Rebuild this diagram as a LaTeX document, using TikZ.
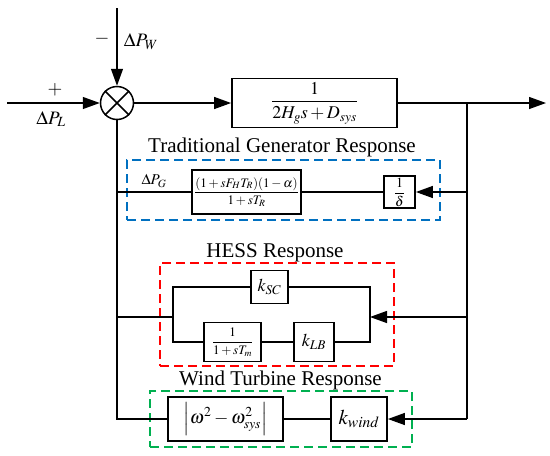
\documentclass[tikz,border=0pt]{standalone}
\usepackage{amsmath}
\usepackage{mathptmx}
\usepackage{fontspec}
\setmainfont{Liberation Serif}
\usetikzlibrary{arrows.meta}
\definecolor{tblue}{RGB}{0,112,192}
\definecolor{tred}{RGB}{255,0,0}
\definecolor{tgreen}{RGB}{0,176,80}
\begin{document}
\begin{tikzpicture}[x=1pt,y=-1pt,
  line width=1.3pt,
  blk/.style={draw,line width=1.8pt,inner sep=0pt,font=\fontsize{13}{15}\selectfont},
  arr/.style={-{Triangle[length=17pt,width=12pt]}},
  dbox/.style={draw,line width=1.6pt,dash pattern=on 9pt off 5pt,inner sep=0pt},
  ttl/.style={font=\fontsize{21}{23}\selectfont,inner sep=0pt},
  lbl/.style={font=\fontsize{19}{21}\selectfont,inner sep=0pt}]
\useasboundingbox (0,0) rectangle (550,456);
% dashed group boxes
\node[dbox,draw=tblue,minimum width=313,minimum height=60] (gbox) at (283.5,190) {};
\node[dbox,draw=tred,minimum width=234,minimum height=103] (hbox) at (277,314.5) {};
\node[dbox,draw=tgreen,minimum width=262,minimum height=56] (wbox) at (281,419) {};
% titles
\node[ttl] (tg) at (282,147) {Traditional Generator Response};
\node[ttl] (th) at (275,253) {HESS Response};
\node[ttl] (tw) at (280.5,380) {Wind Turbine Response};
% summing junction
\node[draw,circle,line width=1.5pt,minimum size=33pt,inner sep=0pt] (sum) at (117,103) {};
\draw[line width=1.5pt] (sum.north west) -- (sum.south east) (sum.north east) -- (sum.south west);
% blocks
\node[blk,minimum width=165,minimum height=49,font=\fontsize{18}{20}\selectfont] (main) at (314.5,103) {$\dfrac{1}{2H_g s+D_{sys}}$};
\node[blk,minimum width=109,minimum height=44,font=\fontsize{13}{15}\selectfont] (gen) at (246.5,192) {$\dfrac{(1+sF_H T_R)(1-\alpha)}{1+sT_R}$};
\node[blk,minimum width=31,minimum height=32,font=\fontsize{14}{16}\selectfont] (delta) at (399.5,192) {$\dfrac{1}{\delta}$};
\node[blk,minimum width=37,minimum height=33,font=\fontsize{18}{20}\selectfont] (ksc) at (269.5,287) {$k_{SC}$};
\node[blk,minimum width=57,minimum height=39,font=\fontsize{13}{15}\selectfont] (tm) at (232.5,342) {$\dfrac{1}{1+sT_m}$};
\node[blk,minimum width=40,minimum height=39,font=\fontsize{18}{20}\selectfont] (klb) at (314,342) {$k_{LB}$};
\node[blk,minimum width=115,minimum height=44,font=\fontsize{18.5}{20}\selectfont] (absb) at (225.5,419) {$\Big|\omega^2-\omega_{sys}^2\Big|$};
\node[blk,minimum width=56,minimum height=44,font=\fontsize{21}{23}\selectfont] (kwind) at (359,419) {$k_{wind}$};
% labels
\node[lbl] (plus) at (55,90) {$+$};
\node[lbl] (pl) at (51,119) {$\Delta P_L$};
\node[lbl] (minus) at (102,39) {$-$};
\node[lbl] (pw) at (141,42) {$\Delta P_W$};
\node[font=\fontsize{15}{17}\selectfont,inner sep=0pt] (pg) at (154,181) {$\Delta P_G$};
% coordinates
\coordinate (inL) at (7,103);
\coordinate (inW) at (117,8);
\coordinate (out) at (546,103);
\coordinate (br) at (467,103);
\coordinate (brG) at (467,192);
\coordinate (brH) at (467,317);
\coordinate (brB) at (467,419);
\coordinate (jG) at (117,192);
\coordinate (jH) at (117,317);
\coordinate (jW) at (117,419);
\coordinate (hl) at (173,317);
\coordinate (hr) at (370,317);
% connectors
\draw[arr] (inL) -- (sum.west);
\draw[arr] (inW) -- (sum.north);
\draw[arr] (sum.east) -- (main.west);
\draw[arr] (main.east) -- (out);
\draw (br) -- (brB);
\draw[arr] (brG) -- (delta.east);
\draw (delta.west) -- (gen.east);
\draw (jG) -- (gen.west);
\draw (sum.south) -- (jW) -- (absb.west);
\draw (jH) -- (hl);
\draw (ksc.west) -| (hl) |- (tm.west);
\draw (tm.east) -- (klb.west);
\draw (ksc.east) -| (hr) |- (klb.east);
\draw[arr] (brH) -- (hr);
\draw (kwind.west) -- (absb.east);
\draw[arr] (brB) -- (kwind.east);
\end{tikzpicture}
\end{document}
